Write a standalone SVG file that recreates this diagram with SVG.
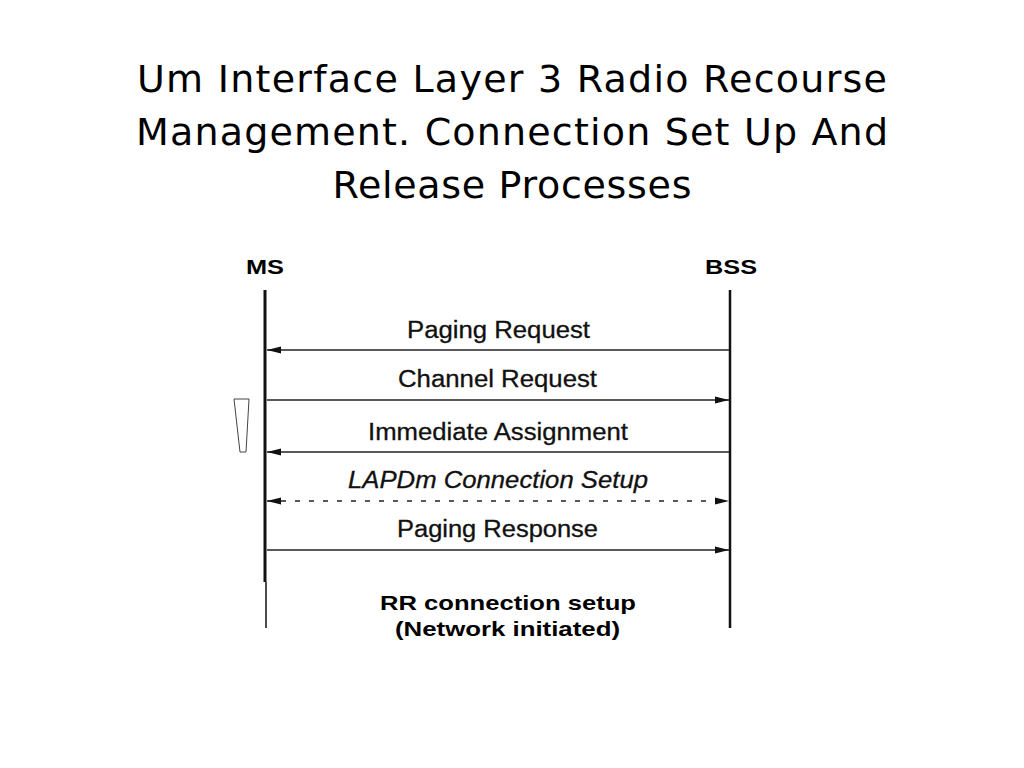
<svg xmlns="http://www.w3.org/2000/svg" width="1024" height="768" viewBox="0 0 1024 768">
<defs>
<style>
.title{font-family:"DejaVu Sans",sans-serif;font-size:38px;fill:#000;text-anchor:middle}
.lbl{font-family:"Liberation Sans",Arial,sans-serif;font-size:23px;fill:#111;stroke:#111;stroke-width:0.3;text-anchor:middle}
.hdr{font-family:"Liberation Sans",Arial,sans-serif;font-size:21px;font-weight:bold;fill:#000;text-anchor:middle}
.msg{stroke:#222;stroke-width:1.5;fill:none}
.life{stroke:#111;fill:none}
</style>
<marker id="ah" viewBox="0 0 10 10" refX="10" refY="5" markerWidth="14" markerHeight="9" markerUnits="userSpaceOnUse" preserveAspectRatio="none" orient="auto-start-reverse">
<path d="M0,1 L10,5 L0,9 z" fill="#111"/>
</marker>
</defs>
<rect width="1024" height="768" fill="#fff"/>
<g id="title">
<text class="title" x="512" y="92" textLength="750" lengthAdjust="spacing">Um Interface Layer 3 Radio Recourse</text>
<text class="title" x="512" y="145" textLength="752" lengthAdjust="spacing">Management. Connection Set Up And</text>
<text class="title" x="512" y="198" textLength="359" lengthAdjust="spacing">Release Processes</text>
</g>
<g id="MS">
<text class="hdr" x="265" y="274" textLength="38" lengthAdjust="spacingAndGlyphs">MS</text>
<line class="life" x1="265" y1="290" x2="265" y2="582" stroke-width="3"/>
<line class="life" x1="266" y1="582" x2="266" y2="628" stroke-width="1.5"/>
<polygon points="234,399 249,399 246,452 240,452" fill="none" stroke="#444" stroke-width="1"/>
</g>
<g id="BSS">
<text class="hdr" x="731" y="274" textLength="52" lengthAdjust="spacingAndGlyphs">BSS</text>
<line class="life" x1="730" y1="290" x2="730" y2="628" stroke-width="2.5"/>
</g>
<g id="connectors">
<line class="msg" x1="729" y1="350" x2="267" y2="350" marker-end="url(#ah)"/>
<line class="msg" x1="267" y1="400" x2="729" y2="400" marker-end="url(#ah)"/>
<line class="msg" x1="729" y1="452" x2="267" y2="452" marker-end="url(#ah)"/>
<line class="msg" x1="267" y1="501" x2="729" y2="501" stroke-dasharray="5,9" marker-start="url(#ah)" marker-end="url(#ah)"/>
<line class="msg" x1="267" y1="550" x2="729" y2="550" marker-end="url(#ah)"/>
</g>
<g id="labels">
<text class="lbl" x="498.5" y="338" textLength="183" lengthAdjust="spacingAndGlyphs">Paging Request</text>
<text class="lbl" x="497.5" y="387" textLength="199" lengthAdjust="spacingAndGlyphs">Channel Request</text>
<text class="lbl" x="498" y="440" textLength="260" lengthAdjust="spacingAndGlyphs">Immediate Assignment</text>
<text class="lbl" x="498" y="488" font-style="italic" textLength="300" lengthAdjust="spacingAndGlyphs">LAPDm Connection Setup</text>
<text class="lbl" x="497.5" y="537" textLength="201" lengthAdjust="spacingAndGlyphs">Paging Response</text>
<text class="hdr" x="508" y="610" textLength="256" lengthAdjust="spacingAndGlyphs">RR connection setup</text>
<text class="hdr" x="507.5" y="636" textLength="225" lengthAdjust="spacingAndGlyphs">(Network initiated)</text>
</g>
</svg>
